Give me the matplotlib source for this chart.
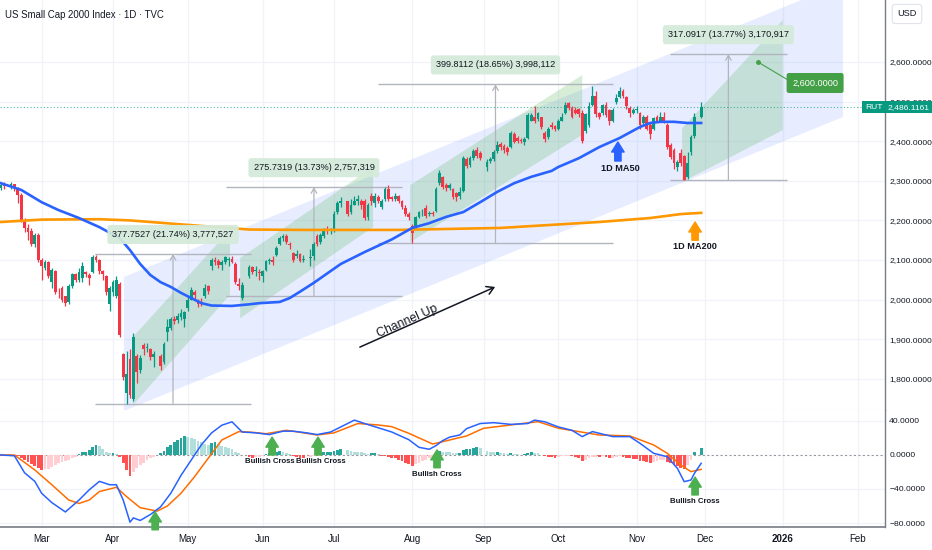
import numpy as np
import pandas as pd
import matplotlib
matplotlib.use("Agg")
import matplotlib.pyplot as plt
from matplotlib.patches import Polygon
from matplotlib.transforms import blended_transform_factory

plt.rcParams['font.family'] = ['Liberation Sans', 'DejaVu Sans']

# ---- daily candles (RUT, 1D) ----
start = "2025-02-13"
end = "2025-11-28"
holidays = ["2025-02-17", "2025-04-18", "2025-05-26", "2025-06-19",
            "2025-07-04", "2025-09-01", "2025-11-27"]

opens = [2283, 2290, 2287, 2292, 2282, 2265, 2198, 2180, 2172, 2140, 2163,
         2100, 2080, 2095, 2045, 2072, 2020, 2030, 2008, 1995, 2035, 2065, 2050, 2055, 2070, 2062, 2070, 2108, 2100, 2072, 2060, 1990,
         2020, 2010, 2040, 1862, 1765, 1850, 1750, 1858, 1822, 1885, 1878, 1875, 1856, 1858, 1842, 1918, 1928, 1952, 1948, 1955, 1950,
         1978, 2000, 2020, 1998, 1995, 2008, 2035, 2085, 2100, 2098, 2088, 2095, 2100, 2102, 2090, 2040, 2005, 2060, 2082, 2072, 2070,
         2060, 2075, 2098, 2100, 2112, 2140, 2155, 2160, 2140, 2118, 2110, 2115, 2100, 2105, 2110, 2160, 2145, 2160, 2175, 2172,
         2175, 2220, 2245, 2248, 2220, 2240, 2250, 2250, 2250, 2208, 2262, 2245, 2260, 2235, 2255, 2280, 2258, 2255, 2262, 2248, 2232, 2215,
         2185, 2180, 2208, 2220, 2232, 2215, 2218, 2225, 2295, 2310, 2290, 2282, 2280, 2268, 2262, 2275, 2355, 2340, 2358, 2378, 2370,
         2335, 2350, 2355, 2375, 2392, 2388, 2382, 2385, 2418, 2408, 2402, 2398, 2408, 2452, 2462, 2455, 2460, 2420, 2410, 2442, 2438,
         2432, 2452, 2470, 2496, 2485, 2480, 2482, 2472, 2425, 2442, 2492, 2515, 2470, 2470, 2492, 2478, 2452, 2500, 2512, 2528, 2512, 2484, 2472,
         2478, 2470, 2445, 2460, 2440, 2430, 2462, 2452, 2460, 2442, 2390, 2378, 2335, 2370, 2362, 2310, 2372, 2412, 2462]
highs = [2295, 2296, 2298, 2293, 2285, 2268, 2205, 2190, 2180, 2168, 2168,
         2105, 2100, 2098, 2080, 2075, 2030, 2035, 2010, 2040, 2068, 2068, 2080, 2095, 2072, 2068, 2112, 2112, 2102, 2075, 2062, 2035,
         2050, 2060, 2045, 1865, 1870, 1875, 1915, 1862, 1860, 1890, 1890, 1878, 1870, 1862, 1892, 1950, 1955, 1958, 1965, 1975, 1972,
         2010, 2032, 2025, 2002, 2005, 2040, 2038, 2105, 2108, 2102, 2100, 2110, 2108, 2110, 2095, 2055, 2045, 2088, 2085, 2085, 2078,
         2075, 2100, 2105, 2110, 2135, 2160, 2165, 2165, 2145, 2120, 2125, 2118, 2112, 2128, 2145, 2165, 2168, 2180, 2185, 2180,
         2225, 2250, 2260, 2250, 2255, 2262, 2265, 2255, 2255, 2245, 2268, 2268, 2265, 2255, 2285, 2290, 2262, 2268, 2265, 2252, 2238, 2220,
         2190, 2212, 2225, 2230, 2238, 2225, 2225, 2285, 2328, 2312, 2295, 2295, 2282, 2272, 2285, 2362, 2360, 2362, 2380, 2385, 2375,
         2355, 2360, 2378, 2400, 2398, 2392, 2388, 2425, 2422, 2412, 2408, 2410, 2470, 2470, 2488, 2475, 2462, 2425, 2435, 2448, 2442,
         2456, 2470, 2498, 2500, 2490, 2486, 2485, 2478, 2472, 2498, 2540, 2528, 2475, 2495, 2498, 2482, 2485, 2518, 2538, 2532, 2515, 2488, 2485,
         2490, 2475, 2466, 2465, 2445, 2462, 2466, 2474, 2475, 2445, 2395, 2382, 2352, 2380, 2366, 2372, 2415, 2470, 2500]
lows = [2278, 2280, 2280, 2274, 2245, 2195, 2170, 2150, 2135, 2133, 2095,
        2050, 2075, 2055, 2030, 2015, 2005, 1995, 1985, 1988, 2030, 2045, 2045, 2045, 2058, 2038, 2068, 2095, 2065, 2050, 2012, 1970,
        2010, 2005, 1905, 1798, 1737, 1752, 1745, 1790, 1815, 1860, 1868, 1848, 1830, 1822, 1838, 1895, 1922, 1938, 1940, 1948, 1930,
        1972, 1998, 2002, 1982, 1985, 2005, 2015, 2075, 2088, 2080, 2075, 2090, 2085, 2092, 2040, 2025, 1998, 2055, 2065, 2060, 2050,
        2045, 2072, 2090, 2088, 2110, 2138, 2148, 2140, 2128, 2095, 2105, 2095, 2095, 2085, 2100, 2135, 2140, 2155, 2165, 2165,
        2170, 2215, 2235, 2210, 2215, 2238, 2240, 2230, 2200, 2200, 2240, 2235, 2245, 2228, 2250, 2250, 2248, 2250, 2245, 2230, 2212, 2200,
        2144, 2178, 2205, 2212, 2205, 2210, 2210, 2222, 2290, 2280, 2275, 2278, 2255, 2250, 2255, 2272, 2332, 2335, 2352, 2358, 2352,
        2325, 2345, 2350, 2370, 2378, 2370, 2365, 2382, 2395, 2395, 2395, 2390, 2405, 2450, 2445, 2450, 2430, 2398, 2405, 2430, 2425,
        2428, 2450, 2468, 2480, 2458, 2468, 2462, 2395, 2420, 2435, 2488, 2462, 2455, 2465, 2460, 2440, 2448, 2495, 2508, 2508, 2482, 2462, 2468,
        2470, 2430, 2440, 2428, 2405, 2428, 2448, 2448, 2445, 2380, 2355, 2330, 2325, 2338, 2303, 2305, 2365, 2408, 2458]
closes = [2290, 2287, 2292, 2282, 2265, 2198, 2180, 2170, 2140, 2163, 2100,
          2085, 2095, 2060, 2075, 2020, 2018, 2000, 1992, 2035, 2065, 2050, 2070, 2085, 2065, 2055, 2108, 2100, 2072, 2065, 2020, 2030,
          2045, 2050, 1910, 1805, 1812, 1758, 1905, 1818, 1852, 1875, 1880, 1855, 1862, 1832, 1888, 1930, 1950, 1945, 1958, 1966, 1968,
          2000, 2025, 2012, 1990, 1992, 2030, 2022, 2100, 2095, 2088, 2095, 2108, 2102, 2096, 2045, 2035, 2038, 2082, 2070, 2075, 2068,
          2072, 2098, 2100, 2095, 2130, 2155, 2160, 2145, 2138, 2100, 2115, 2098, 2102, 2108, 2140, 2140, 2162, 2175, 2172, 2175,
          2215, 2245, 2250, 2215, 2240, 2250, 2255, 2238, 2205, 2240, 2248, 2262, 2250, 2248, 2280, 2255, 2255, 2262, 2250, 2235, 2215, 2208,
          2168, 2208, 2220, 2222, 2212, 2218, 2215, 2280, 2320, 2285, 2282, 2290, 2260, 2258, 2272, 2358, 2338, 2358, 2375, 2362, 2358,
          2348, 2355, 2372, 2390, 2385, 2378, 2373, 2420, 2398, 2400, 2400, 2405, 2466, 2465, 2450, 2470, 2435, 2405, 2432, 2435, 2430,
          2452, 2462, 2492, 2485, 2462, 2472, 2468, 2400, 2468, 2490, 2515, 2468, 2462, 2492, 2465, 2450, 2480, 2510, 2528, 2515, 2488, 2472, 2480,
          2482, 2440, 2460, 2432, 2418, 2458, 2452, 2460, 2450, 2385, 2360, 2345, 2348, 2345, 2302, 2345, 2410, 2462, 2486]

# MACD histogram, one per candle
macd_hist = [0.5, 0.3, -0.3, -0.8, -1.5, -3, -6, -8, -11, -13, -15,
             -18, -17, -16, -14, -12, -10, -8, -7, -6, -4, -2.5, 1, 3, 4, 5.5, 9.5, 11.5, 10, 7, 4, 2,
             2.5, 1.5, -2, -10, -18, -25, -20, -15, -12, -9, -6, -4, -2, 2, 5, 9, 12, 15, 18, 20, 22,
             21, 20.5, 19, 17, 15, 13, 12, 14, 15, 13, 11, 9.5, 8, 6.5, 4, 2, -0.5, -2.5, -3, -2.5, -2,
             -1.5, 1, 2, 3, 4, 4.5, 3.5, 2, 1, -1.5, -2, -3, -3.5, -2, -1, 0.5, 2, 3, 3.5, 4,
             5, 6, 6.5, 5.5, 5, 4, 3.5, 3, 2.5, 1.5, 2, 2.5, 1, -1, -1.5, -2, -3, -4, -5.5, -7, -9, -11,
             -13, -11, -9, -7, -6, -4, -2, 3, 5, 4, 3.5, 3, 2.5, 2, 2.5, 6, 7, 7.5, 8.5, 9, 8,
             5, 4, 3, 3, 2.5, 2, 1.5, 2, 1.5, 1, 0.5, 1, 2.5, 3, 2.5, 2, 0.5, -1.5, -2, -2.5, -3,
             -2, -1.5, -1, -0.8, -1.5, -2, -3, -7, -6, -4, -2.5, -2, -2, -1.5, -2, -3.5, -3, -2, -1.5, -2, -3, -4, -4.5,
             -5, -6.5, -7, -8, -10, -8, -7, -6, -5.5, -8, -10, -12, -13, -15, -17, -12, -6, 3, 8]

# MACD / signal lines, read at bar numbers (weekdays since start)
macd_day = [0, 4, 7, 10, 12, 15, 19, 23, 26, 29, 32, 34, 36, 38, 39, 41, 44, 47, 50, 53, 56, 59, 62, 65, 68,
            71, 75, 79, 83, 86, 90, 93, 97, 101, 104, 107, 111, 115, 120, 123, 126, 128, 130, 132, 135, 137,
            141, 145, 150, 155, 157, 160, 164, 168, 171, 174, 180, 185, 188, 192, 196, 199, 201, 203, 204, 206]
macd_val = [0, -1, -21, -31, -45, -56, -67, -53, -41, -31, -35, -35, -53, -79, -74, -77, -70, -61, -45, -24, -6, 12, 26, 35, 39,
            27, 26, 24, 28, 28, 26, 24, 27, 35, 41, 37, 32, 27, 18, 9, 6.7, 11, 17, 21, 23.5, 31,
            37, 38, 36, 37, 41, 39, 33, 29, 21.6, 27.5, 21.6, 21.6, 13.7, 2, -2, -15.7, -31.4, -29.4, -21.6, -9.8]
signal_day = [0, 4, 10, 15, 20, 23, 26, 29, 34, 37, 41, 46, 49, 53, 57, 61, 65, 70, 74, 78, 84, 88, 93, 98,
              105, 111, 115, 120, 127, 132, 137, 142, 150, 158, 164, 170, 176, 185, 192, 196, 200, 203, 206]
signal_val = [0, 0, -17.6, -35, -53, -57, -53, -43, -38, -49, -62, -66, -60, -45, -25.5, -3.9, 17.6, 27.5, 26.7, 25, 29, 26.7, 23.5, 26,
              37, 35.3, 33.3, 25.5, 12.9, 17.6, 22.4, 31.4, 35.3, 39.2, 31.4, 27.5, 23.5, 22.4, 11.8, 2, -11.8, -19.6, -16.9]

# moving averages
ma50_day = [0, 6, 12, 17, 23, 29, 35, 38, 41, 44, 47, 50, 53, 56, 59, 62, 68, 73, 76, 82, 85, 88, 92, 100, 107,
            115, 121, 126, 131, 136, 141, 146, 151, 156, 162, 164, 170, 176, 182, 188, 191, 194, 198, 202, 206]
ma50_val = [2294, 2277, 2246, 2226, 2206, 2183, 2155, 2125, 2090, 2062, 2044, 2032, 2017, 2004, 1991, 1985, 1984, 1988, 1991,
            1994, 2004, 2020, 2042, 2090, 2120, 2152, 2181, 2193, 2209, 2221, 2246, 2272, 2294, 2310, 2325, 2335, 2357,
            2385, 2408, 2436, 2446, 2449, 2449, 2446, 2446]
ma200_day = [0, 12, 29, 38, 59, 73, 88, 117, 147, 176, 191, 200, 206]
ma200_val = [2196, 2202, 2203, 2200, 2186, 2177, 2176, 2176, 2181, 2196, 2206, 2216, 2219]

last_price = 2486.1161

# drawings (bar number, price)
channel_day = [36.2, 247.7]
channel_low = [1718.7, 2461.1]
channel_width = 338.4
bands = [([38.9, 38.9, 67.4, 67.4], [1734, 1906, 2176, 2012]),
         ([70.4, 70.4, 109.5, 109.5], [1953, 2105, 2335, 2183]),
         ([120.4, 120.4, 171.0, 171.0], [2145, 2289, 2567, 2416]),
         ([200.4, 200.4, 230.0, 230.0], [2297, 2433, 2706, 2428])]
ranges_x0 = [27.7, 66.2, 110.9, 196.8]
ranges_x1 = [73.6, 118.0, 180.1, 231.2]
ranges_lo = [1737.6, 2008.3, 2143.7, 2302.8]
ranges_hi = [2115.35, 2284.03, 2543.51, 2619.89]
ranges_txt = ["377.7527 (21.74%) 3,777,527", "275.7319 (13.73%) 2,757,319",
              "399.8112 (18.65%) 3,998,112", "317.0917 (13.77%) 3,170,917"]
cross_day = [45.4, 79.8, 93.3, 128.3, 204.2]
cross_text_day = [45.4, 79.2, 94.0, 128.3, 204.2]
cross_y = [-88, 0, 0, -15, -47]

month_starts = ["2025-03-01", "2025-04-01", "2025-05-01", "2025-06-01", "2025-07-01", "2025-08-01",
                "2025-09-01", "2025-10-01", "2025-11-01", "2025-12-01", "2026-01-01", "2026-02-01"]
month_names = ["Mar", "Apr", "May", "Jun", "Jul", "Aug", "Sep", "Oct", "Nov", "Dec", "2026", "Feb"]

UP = "#089981"
DOWN = "#f23645"
TXT = "#131722"
GRID = "#f0f3fa"

dates = pd.bdate_range(start, end)
dates = dates[~dates.isin(pd.to_datetime(holidays))]
xs = np.busday_count(start, dates.values.astype("datetime64[D]"))
o, h, l, c = (np.array(v, dtype=float) for v in (opens, highs, lows, closes))
month_pos = np.busday_count(start, np.busday_offset(np.array(month_starts, dtype="datetime64[D]"), 0, roll="forward"))

fig = plt.figure(figsize=(9.32, 5.5), dpi=100)
ax = fig.add_axes([0, 140 / 550, 885 / 932, 410 / 550])
ax2 = fig.add_axes([0, 23 / 550, 885 / 932, 117 / 550], sharex=ax)
ax.set_xlim(-0.235, 260.06)
ax.set_ylim(1721.2, 2756.6)
ax2.set_ylim(-84.7, 52.9)

for a in (ax, ax2):
    a.set_facecolor("white")
    for s in ("top", "left"):
        a.spines[s].set_visible(False)
    a.spines["right"].set_color("#787b86")
    a.spines["right"].set_linewidth(1.0)
    a.yaxis.tick_right()
    a.tick_params(axis="y", length=0, pad=3, labelsize=6.1, labelcolor=TXT)
    a.set_xticks(month_pos)
    for p in month_pos:
        a.axvline(p, color=GRID, lw=0.9, zorder=0)
ax.spines["bottom"].set_color("#e0e3eb")
ax2.spines["bottom"].set_color("#787b86")
ax2.spines["bottom"].set_linewidth(1.2)
ax.tick_params(axis="x", length=0, labelbottom=False)
ax2.tick_params(axis="x", length=0, pad=5, labelsize=7, labelcolor=TXT)
ax2.set_xticklabels(month_names)
ax2.get_xticklabels()[10].set_fontweight("bold")

price_ticks = [1800, 1900, 2000, 2100, 2200, 2300, 2400, 2500, 2600]
ax.set_yticks(price_ticks)
ax.set_yticklabels([f"{v:,.4f}" for v in price_ticks])
for v in price_ticks:
    ax.axhline(v, color=GRID, lw=0.9, zorder=0)
macd_ticks = [40, 0, -40, -80]
ax2.set_yticks(macd_ticks)
ax2.set_yticklabels([f"{v:.4f}".replace("-", "\u2212") for v in macd_ticks])
for v in (40, -40, -80):
    ax2.axhline(v, color=GRID, lw=0.9, zorder=0)
ax2.axhline(0, color="#9598a1", lw=0.8, ls=(0, (2, 2)), zorder=1)

# channel up
d0, d1 = channel_day
ax.add_patch(Polygon([(d0, channel_low[0]), (d1, channel_low[1]),
                      (d1, channel_low[1] + channel_width), (d0, channel_low[0] + channel_width)],
                     closed=True, fc="#2962ff", alpha=0.11, ec="none", zorder=0.5))
for bx, by in bands:
    ax.add_patch(Polygon(list(zip(bx, by)), closed=True, fc="#4caf50", alpha=0.22, ec="none", zorder=0.6))

# price range tools
for x0, x1, lo, hi, txt in zip(ranges_x0, ranges_x1, ranges_lo, ranges_hi, ranges_txt):
    ax.hlines([lo, hi], x0, x1, color="#b2b5be", lw=1.0, zorder=1)
    xm = (x0 + x1) / 2
    ax.annotate("", xy=(xm, hi), xytext=(xm, lo),
                arrowprops=dict(arrowstyle="->,head_length=0.35,head_width=0.2", color="#b2b5be", lw=0.9,
                                shrinkA=0, shrinkB=0), zorder=1)
    ax.annotate(txt, xy=(xm, hi), xytext=(0, 14), textcoords="offset points", ha="center", va="center",
                fontsize=6.6, color=TXT, zorder=6,
                bbox=dict(boxstyle="round,pad=0.55,rounding_size=0.3", fc="#d4eada", ec="none", alpha=0.95))

# candles
col = np.where(c >= o, UP, DOWN)
ax.vlines(xs, l, h, colors=col, lw=0.9, zorder=3)
ax.bar(xs, np.maximum(np.abs(c - o), 1.5), bottom=np.minimum(o, c), width=0.78, color=col, lw=0, zorder=3)

# moving averages
ax.plot(ma200_day, ma200_val, color="#ff9800", lw=1.9, zorder=4)
ax.plot(ma50_day, ma50_val, color="#2962ff", lw=1.9, zorder=4)

# last price
ax.axhline(last_price, color=UP, lw=0.8, ls=(0, (1, 2)), alpha=0.7, zorder=2)
tr = blended_transform_factory(ax.transAxes, ax.transData)
ax.text(1.003, last_price, f"{last_price:,.4f}", transform=tr, ha="left", va="center", fontsize=6.1,
        color="white", zorder=10, clip_on=False,
        bbox=dict(boxstyle="square,pad=0.3", fc=UP, ec="none"))
ax.text(0.997, last_price, "RUT", transform=tr, ha="right", va="center", fontsize=6.1,
        color="white", zorder=10, clip_on=False,
        bbox=dict(boxstyle="square,pad=0.3", fc=UP, ec="none"))

# text annotations
fat = "simple,head_length=0.6,head_width=0.75,tail_width=0.38"
ax.annotate("", xy=(181.5, 2398), xytext=(181.5, 2350),
            arrowprops=dict(arrowstyle=fat, color="#2962ff", shrinkA=0, shrinkB=0, mutation_scale=12), zorder=7)
ax.text(182.1, 2330, "1D MA50", ha="center", va="center", fontsize=6.6, fontweight="bold", color=TXT, zorder=7)
ax.annotate("", xy=(204.2, 2196), xytext=(204.2, 2150),
            arrowprops=dict(arrowstyle=fat, color="#ff9800", shrinkA=0, shrinkB=0, mutation_scale=12), zorder=7)
ax.text(204.2, 2133, "1D MA200", ha="center", va="center", fontsize=6.6, fontweight="bold", color=TXT, zorder=7)

ax.annotate("", xy=(145.4, 2032), xytext=(105.6, 1880),
            arrowprops=dict(arrowstyle="->,head_length=0.5,head_width=0.3", color=TXT, lw=1.1,
                            shrinkA=0, shrinkB=0), zorder=7)
ax.text(119.5, 1946, "Channel Up", rotation=24, ha="center", va="center", fontsize=8.8, color=TXT, zorder=7)

ax.plot([222.7, 233.0], [2600, 2547], color="#43a047", lw=0.8, zorder=7)
ax.plot([222.7], [2600], "o", color="#43a047", ms=2.5, zorder=7)
ax.text(239.5, 2547, "2,600.0000", ha="center", va="center", fontsize=6.6, color="white", zorder=8,
        bbox=dict(boxstyle="round,pad=0.6,rounding_size=0.25", fc="#43a047", ec="none"))

# MACD panel
hist = np.array(macd_hist)
prev = np.concatenate([[0], hist[:-1]])
hcol = np.where(hist >= 0, np.where(hist >= prev, "#26a69a", "#b2dfdb"),
                np.where(hist > prev, "#ffcdd2", "#ff5252"))
ax2.bar(xs, hist, width=0.8, color=hcol, lw=0, zorder=2)
ax2.plot(signal_day, signal_val, color="#ff6d00", lw=1.1, zorder=3)
ax2.plot(macd_day, macd_val, color="#2962ff", lw=1.1, zorder=3)

for i, (dx, tx, dy) in enumerate(zip(cross_day, cross_text_day, cross_y)):
    ax2.annotate("", xy=(dx, dy + 21), xytext=(dx, dy),
                 arrowprops=dict(arrowstyle=fat, color="#4caf50", shrinkA=0, shrinkB=0, mutation_scale=12), zorder=6)
    if i > 0:
        ax2.text(tx, dy - 8, "Bullish Cross", ha="center", va="center", fontsize=5.6,
                 fontweight="bold", color=TXT, zorder=6)

fig.text(5 / 932, 1 - 15 / 550, "US Small Cap 2000 Index \u00b7 1D \u00b7 TVC", fontsize=6.9, color=TXT, va="center")
fig.text(907 / 932, 1 - 14 / 550, "USD", fontsize=6.6, color=TXT, ha="center", va="center",
         bbox=dict(boxstyle="round,pad=0.55,rounding_size=0.3", fc="white", ec="#e0e3eb", lw=0.8))

fig.savefig("out.png", dpi=100)
